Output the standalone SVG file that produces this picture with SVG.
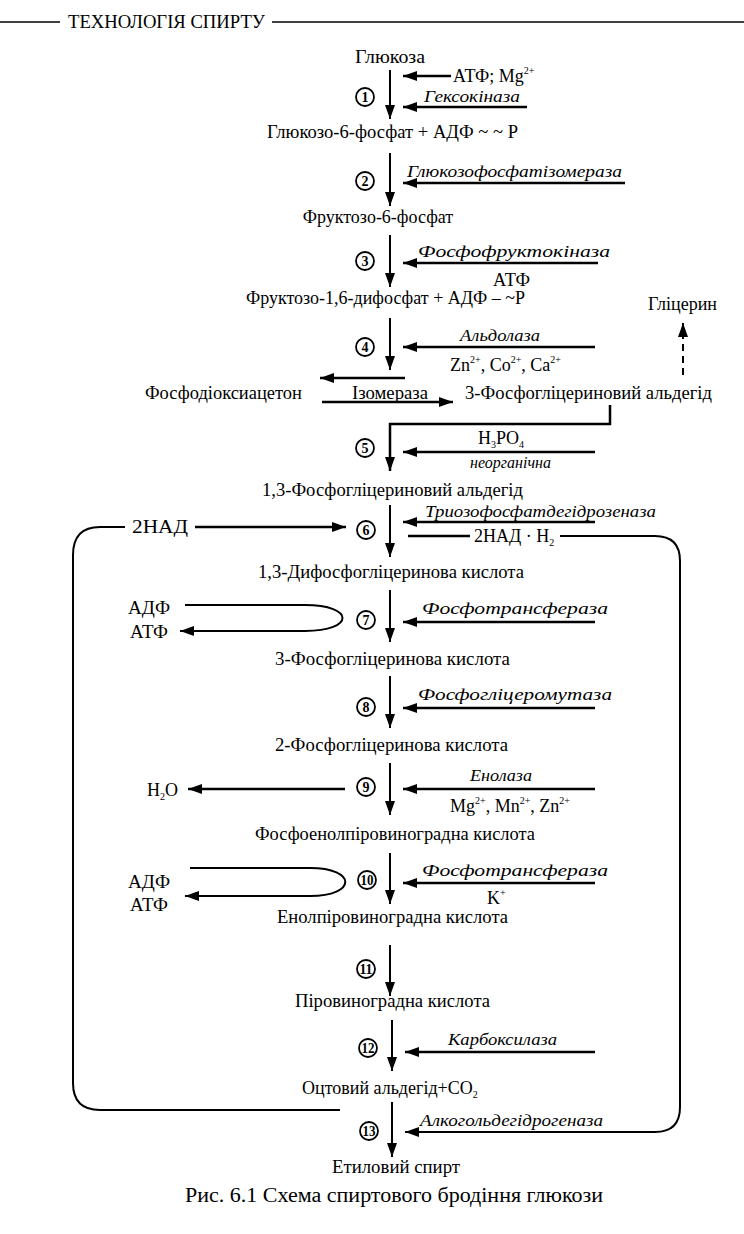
<svg xmlns="http://www.w3.org/2000/svg" width="744" height="1234" viewBox="0 0 744 1234">
<style>
text{font-family:"Liberation Serif","Times New Roman",serif;font-size:18px;fill:#000}
.it{font-style:italic;font-size:17px}
.num{font-size:14px;font-weight:bold;text-anchor:middle}
.cir{fill:none;stroke:#000;stroke-width:1.8}
.cap{font-size:20px}
.hdr{font-size:18px}
.ln{stroke:#000;stroke-width:2;fill:none}
.th{stroke:#000;stroke-width:2.5;fill:none}
.sup{font-size:10px}
</style>
<defs>
<marker id="ah" markerUnits="userSpaceOnUse" markerWidth="15" markerHeight="10" refX="14" refY="5" orient="auto">
<path d="M0,0 L14,5 L0,10 z" fill="#000"/>
</marker>
</defs>
<rect width="744" height="1234" fill="#fff"/>

<g id="header">
<line x1="0" y1="22" x2="60" y2="22" stroke="#000" stroke-width="1.5"/>
<line x1="272" y1="22" x2="744" y2="22" stroke="#000" stroke-width="1.5"/>
<text class="hdr" x="68" y="28" textLength="197" lengthAdjust="spacingAndGlyphs">ТЕХНОЛОГІЯ СПИРТУ</text>
</g>

<g id="connectors">
<line class="ln" x1="390" y1="70" x2="390" y2="119" marker-end="url(#ah)"/>
<line class="th" x1="451" y1="76" x2="403" y2="76" marker-end="url(#ah)"/>
<line class="th" x1="527" y1="107" x2="403" y2="107" marker-end="url(#ah)"/>
<line class="ln" x1="390" y1="153" x2="390" y2="206" marker-end="url(#ah)"/>
<line class="th" x1="625" y1="183" x2="403" y2="183" marker-end="url(#ah)"/>
<line class="ln" x1="390" y1="235" x2="390" y2="287" marker-end="url(#ah)"/>
<line class="th" x1="598" y1="263" x2="403" y2="263" marker-end="url(#ah)"/>
<line class="ln" x1="390" y1="318" x2="390" y2="370" marker-end="url(#ah)"/>
<line class="th" x1="595" y1="347" x2="403" y2="347" marker-end="url(#ah)"/>
<line class="th" x1="405" y1="378" x2="320" y2="378" marker-end="url(#ah)"/>
<line class="th" x1="322" y1="402" x2="453" y2="402" marker-end="url(#ah)"/>
<line x1="683" y1="375" x2="683" y2="323" stroke="#000" stroke-width="2" stroke-dasharray="7,5" marker-end="url(#ah)"/>
<polyline class="th" points="610,405 610,424 390,424 390,471" marker-end="url(#ah)"/>
<line class="th" x1="595" y1="452" x2="403" y2="452" marker-end="url(#ah)"/>
<line class="ln" x1="390" y1="505" x2="390" y2="557" marker-end="url(#ah)"/>
<line class="th" x1="595" y1="522" x2="403" y2="522" marker-end="url(#ah)"/>
<path class="ln" d="M340,1110 L100,1110 Q73,1110 73,1083 L73,555 Q73,527 100,527 L125,527"/>
<line class="th" x1="195" y1="527" x2="346" y2="527" marker-end="url(#ah)"/>
<line class="th" x1="408" y1="536" x2="470" y2="536"/>
<path class="ln" d="M560,536 L655,536 Q680,536 680,561 L680,1107 Q680,1132 655,1132 L405,1132" marker-end="url(#ah)"/>
<line class="ln" x1="390" y1="590" x2="390" y2="642" marker-end="url(#ah)"/>
<line class="th" x1="595" y1="622" x2="403" y2="622" marker-end="url(#ah)"/>
<path class="ln" d="M185,605 L305,605 C355,605 355,631 305,631 L180,631" marker-end="url(#ah)"/>
<line class="ln" x1="390" y1="676" x2="390" y2="728" marker-end="url(#ah)"/>
<line class="th" x1="595" y1="708" x2="403" y2="708" marker-end="url(#ah)"/>
<line class="ln" x1="390" y1="763" x2="390" y2="815" marker-end="url(#ah)"/>
<line class="th" x1="595" y1="789" x2="403" y2="789" marker-end="url(#ah)"/>
<line class="th" x1="345" y1="789" x2="188" y2="789" marker-end="url(#ah)"/>
<line class="ln" x1="390" y1="853" x2="390" y2="904" marker-end="url(#ah)"/>
<line class="th" x1="595" y1="883" x2="403" y2="883" marker-end="url(#ah)"/>
<path class="ln" d="M190,868 L310,868 C357,868 357,896 310,896 L185,896" marker-end="url(#ah)"/>
<line class="ln" x1="390" y1="945" x2="390" y2="996" marker-end="url(#ah)"/>
<line class="ln" x1="392" y1="1020" x2="392" y2="1071" marker-end="url(#ah)"/>
<line class="th" x1="595" y1="1052" x2="405" y2="1052" marker-end="url(#ah)"/>
<line class="ln" x1="392" y1="1102" x2="392" y2="1157" marker-end="url(#ah)"/>
</g>

<g id="n-glucose"><text x="355" y="63" textLength="70" lengthAdjust="spacingAndGlyphs">Глюкоза</text></g>
<g id="n-atp1"><text x="453" y="82">АТФ; Mg<tspan class="sup" dy="-8">2+</tspan></text></g>
<g id="s1"><circle class="cir" cx="365" cy="97" r="9"/><text class="num" x="365" y="102">1</text></g>
<g id="e1"><text class="it" x="424" y="102" textLength="96" lengthAdjust="spacingAndGlyphs">Гексокіназа</text></g>
<g id="n-g6p"><text x="267" y="138" textLength="251" lengthAdjust="spacingAndGlyphs">Глюкозо-6-фосфат + АДФ ~ ~ Р</text></g>

<g id="s2"><circle class="cir" cx="365" cy="181" r="9"/><text class="num" x="365" y="186">2</text></g>
<g id="e2"><text class="it" x="407" y="177" textLength="215" lengthAdjust="spacingAndGlyphs">Глюкозофосфатізомераза</text></g>
<g id="n-f6p"><text x="378" y="223" text-anchor="middle">Фруктозо-6-фосфат</text></g>

<g id="s3"><circle class="cir" cx="365" cy="261" r="9"/><text class="num" x="365" y="266">3</text></g>
<g id="e3"><text class="it" x="418" y="257" textLength="192" lengthAdjust="spacingAndGlyphs">Фосфофруктокіназа</text></g>
<g id="n-atp3"><text x="493" y="286" textLength="37" lengthAdjust="spacingAndGlyphs">АТФ</text></g>
<g id="n-f16"><text x="246" y="304" textLength="279" lengthAdjust="spacingAndGlyphs">Фруктозо-1,6-дифосфат + АДФ – ~Р</text></g>
<g id="n-glycerin"><text x="648" y="310" textLength="69" lengthAdjust="spacingAndGlyphs">Гліцерин</text></g>

<g id="s4"><circle class="cir" cx="365" cy="347" r="9"/><text class="num" x="365" y="352">4</text></g>
<g id="e4"><text class="it" x="460" y="341" textLength="80" lengthAdjust="spacingAndGlyphs">Альдолаза</text></g>
<g id="n-ions4"><text x="450" y="371">Zn<tspan class="sup" dy="-8">2+</tspan><tspan dy="8">, Co</tspan><tspan class="sup" dy="-8">2+</tspan><tspan dy="8">, Ca</tspan><tspan class="sup" dy="-8">2+</tspan></text></g>
<g id="n-phda"><text x="145" y="399" textLength="157" lengthAdjust="spacingAndGlyphs">Фосфодіоксиацетон</text></g>
<g id="e-isom"><text x="352" y="399" textLength="76" lengthAdjust="spacingAndGlyphs">Ізомераза</text></g>
<g id="n-3pga"><text x="465" y="399" textLength="247" lengthAdjust="spacingAndGlyphs">3-Фосфогліцериновий альдегід</text></g>

<g id="s5"><circle class="cir" cx="365" cy="448" r="9"/><text class="num" x="365" y="453">5</text></g>
<g id="n-h3po4"><text x="478" y="444">H<tspan class="sup" dy="4">3</tspan><tspan dy="-4">PO</tspan><tspan class="sup" dy="4">4</tspan></text></g>
<g id="n-inorg"><text class="it" x="470" y="468" textLength="81" lengthAdjust="spacingAndGlyphs">неорганічна</text></g>
<g id="n-13pga"><text x="262" y="496" textLength="261" lengthAdjust="spacingAndGlyphs">1,3-Фосфогліцериновий альдегід</text></g>

<g id="s6"><circle class="cir" cx="366" cy="530" r="9"/><text class="num" x="366" y="535">6</text></g>
<g id="e6"><text class="it" x="425" y="517" textLength="231" lengthAdjust="spacingAndGlyphs">Триозофосфатдегідрозеназа</text></g>
<g id="n-2nad"><text x="132" y="533" textLength="56" lengthAdjust="spacingAndGlyphs">2НАД</text></g>
<g id="n-2nadh2"><text x="474" y="542">2НАД · Н<tspan class="sup" dy="4">2</tspan></text></g>
<g id="n-13dpg"><text x="258" y="578" textLength="266" lengthAdjust="spacingAndGlyphs">1,3-Дифосфогліцеринова кислота</text></g>

<g id="s7"><circle class="cir" cx="366" cy="620" r="9"/><text class="num" x="366" y="625">7</text></g>
<g id="e7"><text class="it" x="422" y="614" textLength="186" lengthAdjust="spacingAndGlyphs">Фосфотрансфераза</text></g>
<g id="n-adp7"><text x="128" y="614" textLength="42" lengthAdjust="spacingAndGlyphs">АДФ</text></g>
<g id="n-atp7"><text x="130" y="638" textLength="38" lengthAdjust="spacingAndGlyphs">АТФ</text></g>
<g id="n-3pgk"><text x="275" y="665" textLength="235" lengthAdjust="spacingAndGlyphs">3-Фосфогліцеринова кислота</text></g>

<g id="s8"><circle class="cir" cx="366" cy="707" r="9"/><text class="num" x="366" y="712">8</text></g>
<g id="e8"><text class="it" x="418" y="700" textLength="194" lengthAdjust="spacingAndGlyphs">Фосфогліцеромутаза</text></g>
<g id="n-2pgk"><text x="275" y="751" textLength="233" lengthAdjust="spacingAndGlyphs">2-Фосфогліцеринова кислота</text></g>

<g id="s9"><circle class="cir" cx="366" cy="787" r="9"/><text class="num" x="366" y="792">9</text></g>
<g id="e9"><text class="it" x="470" y="781" textLength="62" lengthAdjust="spacingAndGlyphs">Енолаза</text></g>
<g id="n-h2o"><text x="147" y="796">H<tspan class="sup" dy="4">2</tspan><tspan dy="-4">O</tspan></text></g>
<g id="n-ions9"><text x="450" y="812">Mg<tspan class="sup" dy="-8">2+</tspan><tspan dy="8">, Mn</tspan><tspan class="sup" dy="-8">2+</tspan><tspan dy="8">, Zn</tspan><tspan class="sup" dy="-8">2+</tspan></text></g>
<g id="n-pep"><text x="255" y="840" textLength="280" lengthAdjust="spacingAndGlyphs">Фосфоенолпіровиноградна кислота</text></g>

<g id="s10"><circle class="cir" cx="367" cy="880" r="9"/><text class="num" x="367" y="885" textLength="13" lengthAdjust="spacingAndGlyphs">10</text></g>
<g id="e10"><text class="it" x="422" y="876" textLength="186" lengthAdjust="spacingAndGlyphs">Фосфотрансфераза</text></g>
<g id="n-k"><text x="487" y="904">K<tspan class="sup" dy="-8">+</tspan></text></g>
<g id="n-adp10"><text x="128" y="888" textLength="42" lengthAdjust="spacingAndGlyphs">АДФ</text></g>
<g id="n-atp10"><text x="130" y="911" textLength="38" lengthAdjust="spacingAndGlyphs">АТФ</text></g>
<g id="n-epk"><text x="277" y="923" textLength="231" lengthAdjust="spacingAndGlyphs">Енолпіровиноградна кислота</text></g>

<g id="s11"><circle class="cir" cx="366" cy="969" r="9"/><text class="num" x="366" y="974" textLength="13" lengthAdjust="spacingAndGlyphs">11</text></g>
<g id="n-pk"><text x="295" y="1007" textLength="195" lengthAdjust="spacingAndGlyphs">Піровиноградна кислота</text></g>

<g id="s12"><circle class="cir" cx="368" cy="1048" r="9"/><text class="num" x="368" y="1053" textLength="13" lengthAdjust="spacingAndGlyphs">12</text></g>
<g id="e12"><text class="it" x="448" y="1045" textLength="109" lengthAdjust="spacingAndGlyphs">Карбоксилаза</text></g>
<g id="n-acet"><text x="302" y="1094">Оцтовий альдегід+CO<tspan class="sup" dy="4">2</tspan></text></g>

<g id="s13"><circle class="cir" cx="369" cy="1131" r="9"/><text class="num" x="369" y="1136" textLength="13" lengthAdjust="spacingAndGlyphs">13</text></g>
<g id="e13"><text class="it" x="420" y="1126" textLength="183" lengthAdjust="spacingAndGlyphs">Алкогольдегідрогеназа</text></g>
<g id="n-eth"><text x="332" y="1173" textLength="128" lengthAdjust="spacingAndGlyphs">Етиловий спирт</text></g>

<g id="caption"><text class="cap" x="185" y="1202" textLength="418" lengthAdjust="spacingAndGlyphs">Рис. 6.1 Схема спиртового бродіння глюкози</text></g>
</svg>
